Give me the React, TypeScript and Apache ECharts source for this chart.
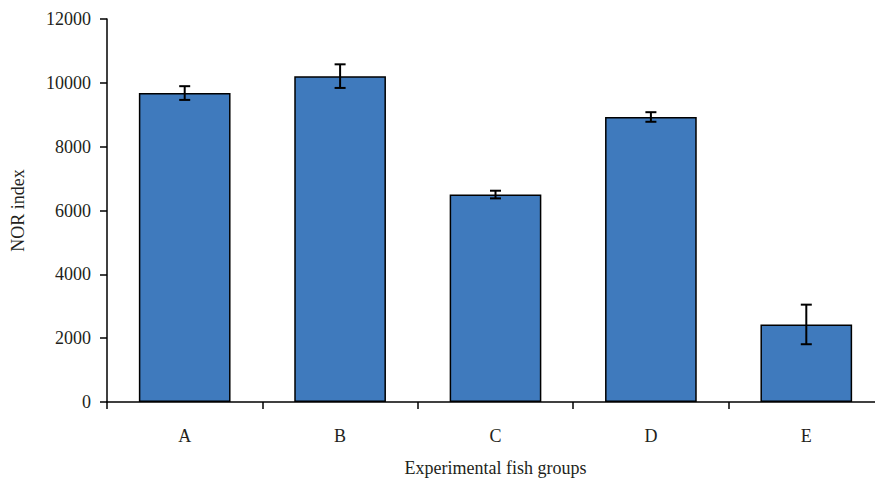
import React, { useEffect, useRef } from "react";
import * as echarts from "echarts";

const categories = ["A", "B", "C", "D", "E"];
const norIndex = [9680, 10210, 6500, 8930, 2430];
const errors = [215, 370, 120, 150, 620];
const yTicks = { min: 0, max: 12000, interval: 2000 };

const FONT = "Liberation Serif";
const TEXT = "#231f20";

export default function App() {
  const ref = useRef<HTMLDivElement>(null);
  useEffect(() => {
    if (!ref.current) return;
    const chart = echarts.init(ref.current, null, { renderer: "svg" });
    const errData = categories.map((_, i) => [i, norIndex[i] - errors[i], norIndex[i] + errors[i]]);
    chart.setOption({
      animation: false,
      backgroundColor: "#ffffff",
      grid: { left: 107, top: 19, right: -9, bottom: 78, containLabel: false, outerBoundsMode: "none" },
      xAxis: {
        type: "category",
        data: categories,
        name: "Experimental fish groups",
        nameLocation: "middle",
        nameGap: 57,
        nameTextStyle: { fontFamily: FONT, fontSize: 18, color: TEXT },
        axisLine: { lineStyle: { color: "#000", width: 1.5 } },
        axisTick: { show: true, length: 7, lineStyle: { color: "#000", width: 1.5 }, alignWithLabel: false },
        axisLabel: { fontFamily: FONT, fontSize: 18, color: TEXT, margin: 25 },
        splitLine: { show: false },
      },
      yAxis: {
        type: "value",
        min: yTicks.min,
        max: yTicks.max,
        interval: yTicks.interval,
        name: "NOR index",
        nameLocation: "middle",
        nameGap: 80,
        nameTextStyle: { fontFamily: FONT, fontSize: 18, color: TEXT },
        axisLine: { show: true, lineStyle: { color: "#000", width: 1.5 } },
        axisTick: { show: true, length: 7, lineStyle: { color: "#000", width: 1.5 } },
        axisLabel: { fontFamily: FONT, fontSize: 18, color: TEXT, margin: 16, formatter: (v: number) => String(v) },
        splitLine: { show: false },
      },
      series: [
        {
          type: "bar",
          data: norIndex,
          barWidth: "59%",
          itemStyle: { color: "#3f7abd", borderColor: "#000", borderWidth: 1.5 },
        },
        {
          type: "custom",
          data: errData,
          z: 10,
          renderItem: (params: any, api: any) => {
            const x = api.value(0);
            const lo = api.coord([x, api.value(1)]);
            const hi = api.coord([x, api.value(2)]);
            const half = 5.5;
            const style = { stroke: "#000", lineWidth: 2 };
            return {
              type: "group",
              children: [
                { type: "line", shape: { x1: lo[0], y1: lo[1], x2: hi[0], y2: hi[1] }, style },
                { type: "line", shape: { x1: lo[0] - half, y1: lo[1], x2: lo[0] + half, y2: lo[1] }, style },
                { type: "line", shape: { x1: hi[0] - half, y1: hi[1], x2: hi[0] + half, y2: hi[1] }, style },
              ],
            };
          },
        },
      ],
    });
    return () => chart.dispose();
  }, []);
  return (
    <div
      ref={ref}
      style={{ position: "fixed", left: 0, top: 0, width: 875, height: 480, background: "#fff" }}
    />
  );
}
